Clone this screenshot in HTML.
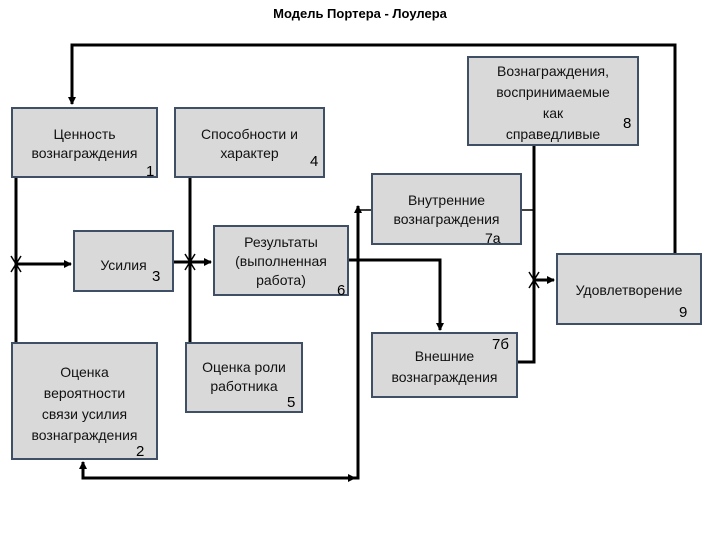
<!DOCTYPE html>
<html><head><meta charset="utf-8"><style>
body{margin:0;width:720px;height:540px;background:#fff;position:relative;overflow:hidden;font-family:"Liberation Sans","DejaVu Sans",sans-serif;}
.b{position:absolute;background:#d9d9d9;border:2px solid #3f4f66;box-sizing:border-box;font-size:14px;color:#111;text-align:center;line-height:19px;}
.n{position:absolute;font-size:15px;}
svg{position:absolute;left:0;top:0}
</style></head><body>
<div style="position:absolute;left:0;top:6px;width:720px;text-align:center;font-size:13px;font-weight:bold;">Модель Портера - Лоулера</div>
<svg width="720" height="540" viewBox="0 0 720 540">
<defs><marker id="a" markerWidth="8" markerHeight="8" refX="7" refY="4" orient="auto" markerUnits="userSpaceOnUse"><path d="M0,0 L8,4 L0,8 Z" fill="#000"/></marker></defs>
<g stroke="#000" stroke-width="3" fill="none">
<polyline points="675,253 675,45 72,45 72,104" marker-end="url(#a)"/>
<line x1="16" y1="178" x2="16" y2="342"/>
<line x1="16" y1="264" x2="71" y2="264" marker-end="url(#a)"/>
<line x1="174" y1="262" x2="211" y2="262" marker-end="url(#a)"/>
<line x1="190" y1="178" x2="190" y2="342"/>
<polyline points="349,260 440,260 440,330" marker-end="url(#a)"/>
<polyline points="83,463 83,478 358,478 358,206" marker-end="url(#a)"/>
<line x1="340" y1="478" x2="355" y2="478" marker-end="url(#a)"/>
<line x1="83" y1="470" x2="83" y2="462" marker-end="url(#a)"/>
<line x1="534" y1="146" x2="534" y2="288"/>
<polyline points="518,362 534,362 534,285"/>
<line x1="534" y1="280" x2="554" y2="280" marker-end="url(#a)"/>
</g>
<g stroke="#000" stroke-width="1.5">
<line x1="358" y1="210" x2="371" y2="210"/>
<line x1="522" y1="210" x2="534" y2="210"/>
<line x1="142" y1="415" x2="158" y2="415"/>
<path d="M11,256 L21,272 M21,256 L11,272 M185,254 L195,270 M195,254 L185,270 M529,272 L539,288 M539,272 L529,288"/>
</g>
</svg>
<div class="b" style="left:11px;top:107px;width:147px;height:71px;padding-top:16px;">Ценность<br>вознаграждения</div><div class="n" style="left:146px;top:163px">1</div>
<div class="b" style="left:174px;top:107px;width:151px;height:71px;padding-top:16px;">Способности и<br>характер</div><div class="n" style="left:310px;top:153px">4</div>
<div class="b" style="left:73px;top:230px;width:101px;height:62px;padding-top:24px;">Усилия</div><div class="n" style="left:152px;top:268px">3</div>
<div class="b" style="left:213px;top:225px;width:136px;height:71px;padding-top:6px;">Результаты<br>(выполненная<br>работа)</div><div class="n" style="left:337px;top:282px">6</div>
<div class="b" style="left:11px;top:342px;width:147px;height:118px;padding-top:18px;line-height:21px;">Оценка<br>вероятности<br>связи усилия<br>вознаграждения</div><div class="n" style="left:136px;top:443px">2</div>
<div class="b" style="left:185px;top:342px;width:118px;height:71px;padding-top:14px;">Оценка роли<br>работника</div><div class="n" style="left:287px;top:394px">5</div>
<div class="b" style="left:467px;top:56px;width:172px;height:90px;padding-top:3px;line-height:21px;">Вознаграждения,<br>воспринимаемые<br>как<br>справедливые</div><div class="n" style="left:623px;top:115px">8</div>
<div class="b" style="left:371px;top:173px;width:151px;height:72px;padding-top:16px;">Внутренние<br>вознаграждения</div><div class="n" style="left:485px;top:230px;font-size:14px">7а</div>
<div class="b" style="left:556px;top:253px;width:146px;height:72px;padding-top:26px;">Удовлетворение</div><div class="n" style="left:679px;top:304px">9</div>
<div class="b" style="left:371px;top:332px;width:147px;height:66px;padding-top:12px;line-height:21px;">Внешние<br>вознаграждения</div><div class="n" style="left:492px;top:336px">7б</div>
</body></html>
